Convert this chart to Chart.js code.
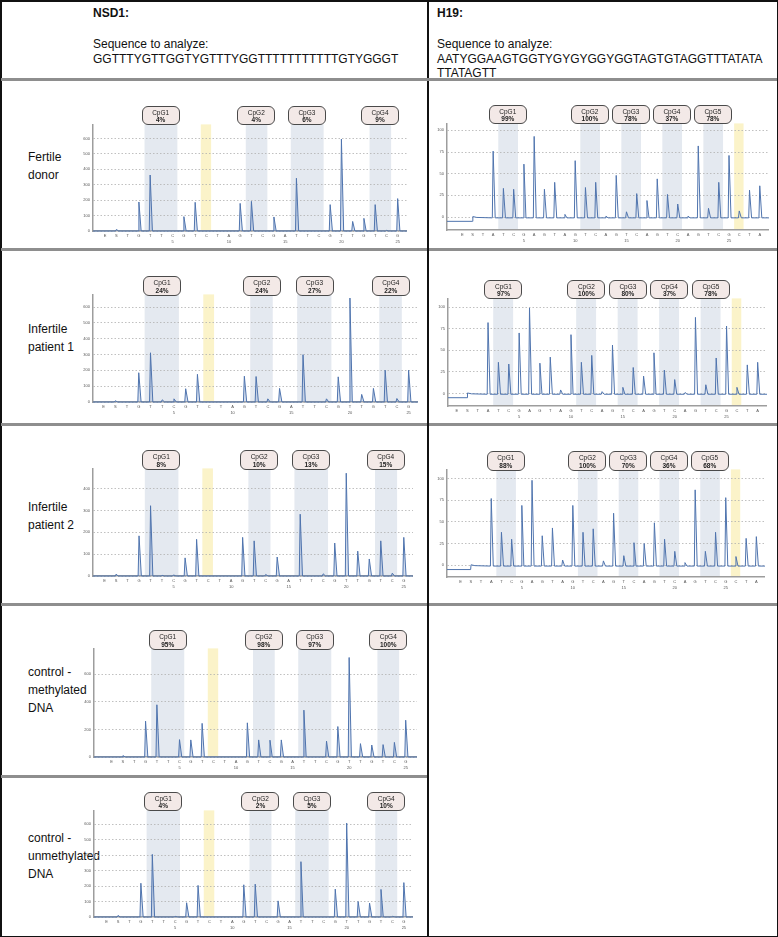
<!DOCTYPE html>
<html><head><meta charset="utf-8">
<script src="https://cdn.jsdelivr.net/npm/chart.js@4.4.1/dist/chart.umd.min.js"></script>
<style>
html,body{margin:0;padding:0;background:#fff;}
body{width:778px;height:937px;position:relative;overflow:hidden;font-family:"Liberation Sans",Arial,sans-serif;color:#111;}
.t{position:absolute;font-size:12px;line-height:16px;white-space:nowrap;}
.hl{position:absolute;height:3px;background:#8e8e8e;}
.bl{position:absolute;background:#111;}
.cpg{position:absolute;box-sizing:border-box;border:1px solid #4a4a4a;border-radius:6px;background:#f3e9e7;text-align:center;font-size:6.5px;line-height:7.5px;color:#222;padding-top:2px;white-space:nowrap;}
canvas{position:absolute;}
</style></head><body>
<script>
// ---------- DATA ----------
const nsd1Dispensation = ['E','S','T','G','T','T','C','G','T','C','T','A','G','T','C','G','A','T','T','C','G','T','T','G','T','C','G'];
const h19Dispensation  = ['E','S','T','A','T','C','G','A','G','T','A','G','T','C','A','G','T','C','A','G','T','C','A','G','T','C','G','C','T','A'];

const rowLabels = ['Fertile\ndonor','Infertile\npatient 1','Infertile\npatient 2','control -\nmethylated\nDNA','control -\nunmethylated\nDNA'];

// NSD1 peak heights (E, S, dispensations 1..25)
const nsd1FertileDonor   = [0,10,0,188,363,0,0,93,186,0,0,0,179,192,0,91,0,342,0,0,171,596,62,82,171,4,210];
const nsd1Infertile1     = [0,8,0,185,311,14,20,84,175,0,0,0,163,161,20,86,0,299,0,20,159,657,48,86,201,22,201];
const nsd1Infertile2     = [0,8,0,184,322,3,5,83,168,0,0,0,177,161,7,87,0,283,0,10,151,471,114,78,161,13,177];
const nsd1Methylated     = [0,10,0,260,379,0,126,124,244,0,0,0,248,124,122,124,0,340,0,115,221,722,97,87,90,106,267];
const nsd1Unmethylated   = [0,10,0,218,404,0,4,92,204,0,0,0,208,212,0,104,0,357,0,0,180,606,100,90,178,4,222];

// H19 peak heights (E, S, dispensations 1..28)
const h19FertileDonor = [0,0,0,76,33,32,61,93,32,40,3,65,34,40,1,48,6,27,19,44,26,15,1,82,10,40,71,7,31,36];
const h19Infertile1   = [0,0,0,82,36,34,70,99,35,42,4,68,36,44,2,56,7,30,20,47,27,16,1,88,10,41,78,7,33,36];
const h19Infertile2   = [0,0,0,77,38,30,69,98,34,43,6,69,38,42,5,60,11,26,25,49,30,16,3,87,16,38,78,10,31,33];

// CpG methylation labels
const nsd1CpgNames = ['CpG1','CpG2','CpG3','CpG4'];
const h19CpgNames  = ['CpG1','CpG2','CpG3','CpG4','CpG5'];
const nsd1FertileDonorPct = ['4%','4%','6%','9%'];
const nsd1Infertile1Pct   = ['24%','24%','27%','22%'];
const nsd1Infertile2Pct   = ['8%','10%','13%','15%'];
const nsd1MethylatedPct   = ['95%','98%','97%','100%'];
const nsd1UnmethylatedPct = ['4%','2%','5%','10%'];
const h19FertileDonorPct  = ['99%','100%','78%','37%','78%'];
const h19Infertile1Pct    = ['97%','100%','80%','37%','78%'];
const h19Infertile2Pct    = ['88%','100%','70%','36%','68%'];

// CpG dispensation ranges and bisulfite control dispensation
const nsd1CpgSlots = [[3,5],[12,13],[16,18],[23,24]];
const nsd1ControlSlot = 8;
const h19CpgSlots = [[3,4],[11,12],[15,16],[19,20],[23,24]];
const h19ControlSlot = 26;

// y tick labels
const nsd1Ticks100 = [0,100,200,300,400,500,600];
const nsd1Ticks400 = [0,100,200,300,400];
const nsd1Ticks200 = [0,200,400,600];
const h19Ticks     = [0,25,50,75,100];

// ---------- LAYOUT ----------
const YW = 14, XH = 14;
const panels = [
  {disp:nsd1Dispensation, vals:nsd1FertileDonor, names:nsd1CpgNames, pct:nsd1FertileDonorPct, ticks:nsd1Ticks100, slots:nsd1CpgSlots, ctrl:nsd1ControlSlot, box:[92.7,119,406.7,231],   xr:[-2.08,25.83], yr:[0,691],   base:0, pre:0},
  {disp:nsd1Dispensation, vals:nsd1Infertile1,   names:nsd1CpgNames, pct:nsd1Infertile1Pct,   ticks:nsd1Ticks100, slots:nsd1CpgSlots, ctrl:nsd1ControlSlot, box:[93.3,289.3,418.3,402.3], xr:[-1.9,25.8],   yr:[0,680],   base:0, pre:0},
  {disp:nsd1Dispensation, vals:nsd1Infertile2,   names:nsd1CpgNames, pct:nsd1Infertile2Pct,   ticks:nsd1Ticks400, slots:nsd1CpgSlots, ctrl:nsd1ControlSlot, box:[92.7,463.3,413,576.7],   xr:[-2.0,25.8],   yr:[0,493],   base:0, pre:0},
  {disp:nsd1Dispensation, vals:nsd1Methylated,   names:nsd1CpgNames, pct:nsd1MethylatedPct,   ticks:nsd1Ticks200, slots:nsd1CpgSlots, ctrl:nsd1ControlSlot, box:[94,643.3,416.7,757.7],   xr:[-2.56,26.0],  yr:[0,788],   base:0, pre:0},
  {disp:nsd1Dispensation, vals:nsd1Unmethylated, names:nsd1CpgNames, pct:nsd1UnmethylatedPct, ticks:nsd1Ticks100, slots:nsd1CpgSlots, ctrl:nsd1ControlSlot, box:[94,805,413.3,917.3],     xr:[-2.1,25.8],   yr:[0,688],   base:0, pre:0},
  {disp:h19Dispensation,  vals:h19FertileDonor,  names:h19CpgNames,  pct:h19FertileDonorPct,  ticks:h19Ticks,     slots:h19CpgSlots,  ctrl:h19ControlSlot,  box:[446.7,117.7,768.3,230], xr:[-2.5,28.9],   yr:[-15,108], base:-1, pre:-5},
  {disp:h19Dispensation,  vals:h19Infertile1,    names:h19CpgNames,  pct:h19Infertile1Pct,    ticks:h19Ticks,     slots:h19CpgSlots,  ctrl:h19ControlSlot,  box:[448.3,292.7,767.7,406], xr:[-1.86,28.9],  yr:[-14.6,110], base:-1, pre:-5},
  {disp:h19Dispensation,  vals:h19Infertile2,    names:h19CpgNames,  pct:h19Infertile2Pct,    ticks:h19Ticks,     slots:h19CpgSlots,  ctrl:h19ControlSlot,  box:[446.7,464.3,765,577.7], xr:[-2.34,28.85], yr:[-13.6,110.6], base:-1, pre:-5}
];

// ---------- STATIC TABLE ----------
function el(cls, style, html){const d=document.createElement('div');d.className=cls;Object.assign(d.style,style);if(html!==undefined)d.innerHTML=html;document.body.appendChild(d);return d;}
el('bl',{left:'0px',top:'0px',width:'778px',height:'1.5px'});
el('bl',{left:'0px',top:'935.5px',width:'778px',height:'1.5px'});
el('bl',{left:'0px',top:'0px',width:'1.5px',height:'937px'});
el('bl',{left:'776.5px',top:'0px',width:'1.5px',height:'937px'});
el('bl',{left:'426.5px',top:'0px',width:'2px',height:'937px'});
el('hl',{left:'1px',top:'78px',width:'776px'});
[247.5,422.5,602.5,774.5].forEach(y=>el('hl',{left:'1px',top:y+'px',width:'425.5px'}));
[247.5,422.5,602.5].forEach(y=>el('hl',{left:'428.5px',top:y+'px',width:'348px'}));
el('t',{left:'93px',top:'5px',fontWeight:'bold'},'NSD1:');
el('t',{left:'93px',top:'36px'},'Sequence to analyze:');
el('t',{left:'93px',top:'51px'},'GGTTTYGTTGGTYGTTTYGGTTTTTTTTTTTGTYGGGT');
el('t',{left:'437px',top:'5px',fontWeight:'bold'},'H19:');
el('t',{left:'437px',top:'36px'},'Sequence to analyze:');
el('t',{left:'437px',top:'51px'},'AATYGGAAGTGGTYGYGYGGYGGTAGTGTAGGTTTATATA');
el('t',{left:'437px',top:'65px'},'TTATAGTT');
const rowCenters = [166,338,516,690,856];
rowLabels.forEach((lab,i)=>{
  const lines = lab.split('\n');
  el('t',{left:'28px',top:(rowCenters[i]-lines.length*9)+'px',lineHeight:'18px'},lines.join('<br>'));
});

// ---------- CHARTS ----------
function buildTrace(values, xmin, xmax, base, pre){
  const pts=[{x:xmin,y:pre}];
  values.forEach((v,i)=>{
    const x=i-1;
    const l = x<=0?pre:base, r = x<0?pre:base;
    if(v>0){
      pts.push({x:x-0.08,y:l});
      pts.push({x:x,y:v});
      pts.push({x:x+0.2,y:r});
    } else if(x===0 && pre!==base){
      pts.push({x:x-0.02,y:pre});
      pts.push({x:x+0.02,y:base+1.5});
      pts.push({x:x+0.4,y:base+0.5});
    }
  });
  pts.push({x:xmax,y:base});
  return pts;
}

const shadePlugin = {
  id:'shade',
  beforeDraw(chart){
    const o = chart.options.plugins.shade; if(!o) return;
    const {ctx, chartArea:a, scales:{x}} = chart;
    ctx.save();
    o.slots.forEach(s=>{
      const x1=x.getPixelForValue(s[0]-0.5), x2=x.getPixelForValue(s[1]+0.42);
      ctx.fillStyle='#e4e9f0'; ctx.fillRect(x1,a.top,x2-x1,a.bottom-a.top);
    });
    const c1=x.getPixelForValue(o.ctrl-0.5), c2=x.getPixelForValue(o.ctrl+0.42);
    ctx.fillStyle='#fbf3c9'; ctx.fillRect(c1,a.top,c2-c1,a.bottom-a.top);
    ctx.restore();
  }
};

panels.forEach(p=>{
  const [L,T,R,B]=p.box;
  const cv=document.createElement('canvas');
  const w=Math.round(R-L+YW), h=Math.round(B-T+XH);
  cv.width=w; cv.height=h;
  cv.style.left=(L-YW)+'px'; cv.style.top=T+'px';
  cv.style.width=w+'px'; cv.style.height=h+'px';
  document.body.appendChild(cv);
  const isN = p.base===0 && p.pre===0;
  const chart = new Chart(cv,{
    type:'line',
    data:{datasets:[{
      data:buildTrace(p.vals,p.xr[0],p.xr[1],p.base,p.pre),
      borderColor:'#4f74ae', borderWidth:1, pointRadius:0, tension:0,
      fill: isN ? 'origin' : false, backgroundColor:'rgba(140,165,210,0.35)', clip:false
    }]},
    options:{
      responsive:false, animation:false, events:[], devicePixelRatio:1,
      layout:{padding:0},
      plugins:{legend:{display:false}, tooltip:{enabled:false}, shade:{slots:p.slots, ctrl:p.ctrl}},
      scales:{
        x:{type:'linear', min:p.xr[0], max:p.xr[1],
           grid:{display:false, drawTicks:false, tickLength:0}, border:{display:true,color:'#9d9d9d',width:1.5},
           afterBuildTicks:s=>{s.ticks=p.disp.map((_,i)=>({value:i-1}));},
           afterFit:s=>{s.height=XH;},
           ticks:{autoSkip:false, maxRotation:0, minRotation:0, padding:1.5, color:'#555',
                  font:{size:4, lineHeight:1.5, family:'Liberation Sans'},
                  callback:(v)=>{const i=Math.round(v)+1; const n=Math.round(v); return [p.disp[i]||'', (n>0&&n%5===0)?String(n):''];}}},
        y:{type:'linear', min:p.yr[0], max:p.yr[1],
           grid:{color:'#b0b0b0', lineWidth:0.8, drawTicks:false},
           border:{display:true,color:'#9d9d9d',width:1.5,dash:[1.5,2]},
           afterBuildTicks:s=>{s.ticks=p.ticks.map(v=>({value:v}));},
           afterFit:s=>{s.width=YW;},
           ticks:{padding:3, color:'#555', font:{size:4, family:'Liberation Sans'}}}
      }
    },
    plugins:[shadePlugin]
  });
  const xs=chart.scales.x, top=chart.chartArea.top;
  p.slots.forEach((s,k)=>{
    const cx=(L-YW)+xs.getPixelForValue((s[0]-0.5+s[1]+0.42)/2);
    el('cpg',{left:(cx-19)+'px',top:(T+top-18.5)+'px',width:'38px',height:'19.5px'},
       p.names[k]+'<br><b>'+p.pct[k]+'</b>');
  });
});
</script>
</body></html>
